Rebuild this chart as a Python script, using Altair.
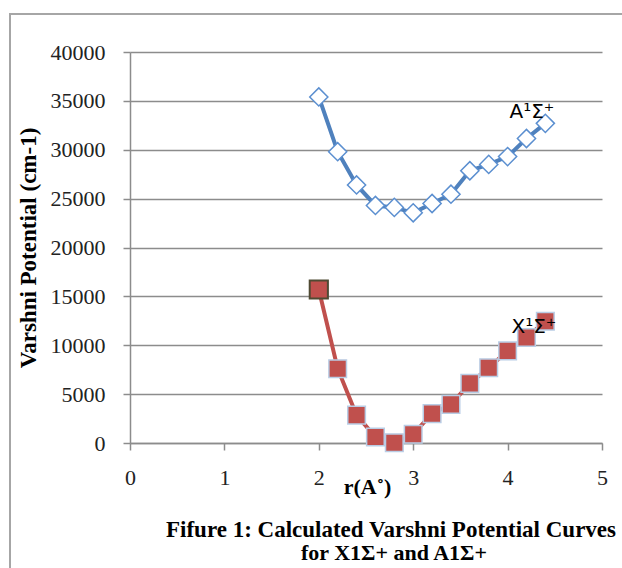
import altair as alt
import pandas as pd

# ---- data ----
r_values = [2.0, 2.2, 2.4, 2.6, 2.8, 3.0, 3.2, 3.4, 3.6, 3.8, 4.0, 4.2, 4.4]
a_state = [35400, 29800, 26400, 24300, 24100, 23550, 24500, 25450, 27850, 28500, 29300, 31150, 32700]
x_state = [15700, 7600, 2850, 620, 30, 900, 3000, 3950, 6100, 7700, 9420, 10800, 12460]
series_labels = ["A\u00b9\u03a3\u207a", "X\u00b9\u03a3\u207a"]
y_ticks = [0, 5000, 10000, 15000, 20000, 25000, 30000, 35000, 40000]
x_ticks = [0, 1, 2, 3, 4, 5]
y_title = "Varshni Potential (cm-1)"
x_title = "r(A\u02da)"
caption = ["Fifure 1: Calculated Varshni Potential Curves", "for X1\u03a3+ and A1\u03a3+"]

df_a = pd.DataFrame({"r": r_values, "V": a_state})
df_x = pd.DataFrame({"r": r_values, "V": x_state})
lab_a = pd.DataFrame({"r": [r_values[-1]], "V": [a_state[-1]], "t": [series_labels[0]]})
lab_x = pd.DataFrame({"r": [r_values[-1]], "V": [x_state[-1]], "t": [series_labels[1]]})
cap1 = pd.DataFrame({"t": [caption[0]]})
cap2 = pd.DataFrame({"t": [caption[1]]})
one = pd.DataFrame({"k": [0]})

SERIF = "Liberation Serif"
GRID = "#8c8c8c"

xs = alt.Scale(domain=[0, 5], nice=False)
ys = alt.Scale(domain=[0, 40000], nice=False)

x_enc = alt.X("r:Q", scale=xs, axis=alt.Axis(
    values=x_ticks, title=x_title, grid=False, format="d", labelFlush=False,
    labelFont=SERIF, labelFontSize=22, labelColor="#222222", labelPadding=17,
    tickSize=7, tickColor=GRID, tickWidth=1.5, domainColor=GRID, domainWidth=1.5,
    titleFont=SERIF, titleFontSize=22, titleFontWeight="bold", titleColor="#000000",
    titleX=237, titleY=50, titleBaseline="alphabetic", titleAlign="center"))
y_enc = alt.Y("V:Q", scale=ys, axis=alt.Axis(
    values=y_ticks, title=y_title, grid=True, gridColor=GRID, gridWidth=1.5, format="d",
    labelFont=SERIF, labelFontSize=22, labelColor="#222222", labelPadding=18,
    tickSize=7, tickColor=GRID, tickWidth=1.5, domainColor=GRID, domainWidth=1.5,
    titleFont=SERIF, titleFontSize=23, titleFontWeight="bold", titleColor="#000000",
    titleX=-95, titleY=195.5, titleAngle=-90, titleBaseline="alphabetic", titleAlign="center"))

xp = alt.X("r:Q", scale=xs)
yp = alt.Y("V:Q", scale=ys)

line_a = alt.Chart(df_a).mark_line(color="#4F81BD", strokeWidth=4).encode(x=x_enc, y=y_enc)
pts_a = alt.Chart(df_a).mark_point(shape="diamond", filled=True, fill="#FFFFFF", stroke="#5b8fd0",
                                   strokeWidth=1.5, size=330, opacity=1).encode(x=xp, y=yp)
line_x = alt.Chart(df_x).mark_line(color="#C0504D", strokeWidth=4).encode(x=xp, y=yp)
pts_x = alt.Chart(df_x).mark_point(shape="square", filled=True, fill="#C0504D", stroke="#b9cde5",
                                   strokeWidth=1.5, size=310, opacity=1).encode(x=xp, y=yp)
first_x = alt.Chart(df_x).transform_filter("datum.r == 2").mark_point(
    shape="square", filled=True, fill="#C0504D", stroke="#4f4a33", strokeWidth=2, size=330,
    opacity=1).encode(x=xp, y=yp)

txt_a = alt.Chart(lab_a).mark_text(font="DejaVu Sans", fontSize=20, align="right",
                                   baseline="alphabetic", dx=9, dy=-5, color="#000000").encode(
    x=xp, y=yp, text="t:N")
txt_x = alt.Chart(lab_x).mark_text(font="DejaVu Sans", fontSize=20, align="right",
                                   baseline="alphabetic", dx=11, dy=12, color="#000000").encode(
    x=xp, y=yp, text="t:N")

c1 = alt.Chart(cap1).mark_text(font=SERIF, fontSize=23, fontWeight="bold", align="center",
                               baseline="alphabetic", color="#000000").encode(
    x=alt.value(261), y=alt.value(485), text="t:N")
c2 = alt.Chart(cap2).mark_text(font=SERIF, fontSize=22, fontWeight="bold", align="center",
                               baseline="alphabetic", color="#000000").encode(
    x=alt.value(264), y=alt.value(508), text="t:N")

border_left = alt.Chart(one).mark_rule(color="#a6a6a6", strokeWidth=2).encode(
    x=alt.value(-120), y=alt.value(-38), y2=alt.value(530))
border_top = alt.Chart(one).mark_rule(color="#a6a6a6", strokeWidth=2).encode(
    y=alt.value(-38), x=alt.value(-121), x2=alt.value(500))

chart = alt.layer(
    line_a, line_x, pts_a, pts_x, first_x, txt_a, txt_x, c1, c2, border_left, border_top
).properties(
    width=472, height=391,
    autosize=alt.AutoSizeParams(type="none"),
    padding={"left": 130, "top": 52, "right": 20, "bottom": 125},
    background="#FFFFFF",
).configure_view(strokeOpacity=0)

chart.save("out.html", embed_options={"renderer": "svg", "actions": False})
